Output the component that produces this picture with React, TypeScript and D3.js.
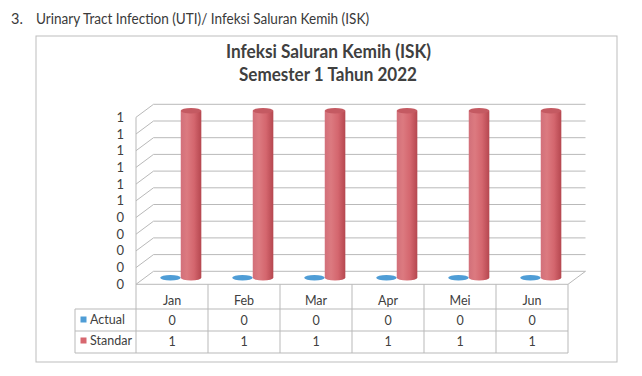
import React from "react";
import * as d3 from "d3";

const months = ["Jan", "Feb", "Mar", "Apr", "Mei", "Jun"];
const seriesNames = ["Actual", "Standar"];
const actualValues = [0, 0, 0, 0, 0, 0];
const standarValues = [1, 1, 1, 1, 1, 1];
const yTicks = [0, 0.1, 0.2, 0.3, 0.4, 0.5, 0.6, 0.7, 0.8, 0.9, 1];
const headingText = "3.";
const headingTitle = "Urinary Tract Infection (UTI)/ Infeksi Saluran Kemih (ISK)";
const titleLines = ["Infeksi Saluran Kemih (ISK)", "Semester 1 Tahun 2022"];

const W = 642;
const H = 376;
const FONT = "Lato, 'Open Sans', sans-serif";
const GRID = "#b9b9b9";
const TEXT = "#404040";
const seriesColors = ["#4f9dd6", "#d7676f"];

export default function App() {
  const x0 = 136;
  const x1 = 568;
  const dx = 17.5;
  const dy = -13;
  const y = d3.scaleLinear().domain([0, 1]).range([284.3, 117.3]);
  const xBand = d3.scaleBand<string>().domain(months).range([x0, x1]);
  const bw = xBand.bandwidth();
  const groupW = bw / 1.75;
  const fmt = d3.format(".0f");
  const values = [actualValues, standarValues];
  const rows = [309, 331, 353];
  const legendX = 75;

  const yb = (v: number) => y(v) + dy;

  return (
    <svg
      width={W}
      height={H}
      style={{ position: "absolute", left: 0, top: 0, background: "#fff" }}
      xmlns="http://www.w3.org/2000/svg"
    >
      <defs>
        <linearGradient id="redCyl" x1="0" x2="1" y1="0" y2="0">
          <stop offset="0" stopColor="#d2707a" />
          <stop offset="0.3" stopColor="#dc7a80" />
          <stop offset="0.65" stopColor="#d4666e" />
          <stop offset="1" stopColor="#b5474f" />
        </linearGradient>
      </defs>

      {/* heading */}
      <text x={11} y={24} fontFamily={FONT} fontSize={14.5} fill="#3a3a3a">
        {headingText}
      </text>
      <text
        x={36}
        y={24}
        fontFamily={FONT}
        fontSize={14.5}
        fill="#3a3a3a"
        textLength={333}
        lengthAdjust="spacingAndGlyphs"
      >
        {headingTitle}
      </text>

      {/* frame */}
      <rect x={36} y={36} width={581} height={326} fill="none" stroke="#bdbdbd" strokeWidth={1} />

      {/* title */}
      <text
        x={328.5}
        y={58}
        textAnchor="middle"
        fontFamily={FONT}
        fontWeight="bold"
        fontSize={19}
        fill={TEXT}
        textLength={205}
        lengthAdjust="spacingAndGlyphs"
      >
        {titleLines[0]}
      </text>
      <text
        x={328}
        y={80.5}
        textAnchor="middle"
        fontFamily={FONT}
        fontWeight="bold"
        fontSize={19}
        fill={TEXT}
        textLength={178}
        lengthAdjust="spacingAndGlyphs"
      >
        {titleLines[1]}
      </text>

      {/* back wall grid lines and left wall diagonals */}
      {yTicks.map((t, i) => (
        <g key={"g" + i}>
          <line x1={x0 + dx} x2={x1 + dx} y1={yb(t)} y2={yb(t)} stroke={GRID} strokeWidth={1} />
          <line x1={x0} x2={x0 + dx} y1={y(t)} y2={yb(t)} stroke={GRID} strokeWidth={1} />
          <text
            x={124}
            y={y(t)}
            dy="0.35em"
            textAnchor="end"
            fontFamily={FONT}
            fontSize={13}
            fill={TEXT}
          >
            {fmt(t)}
          </text>
        </g>
      ))}
      {/* left wall front edge */}
      <line x1={x0} x2={x0} y1={y(1)} y2={rows[2]} stroke={GRID} strokeWidth={1} />
      {/* floor */}
      <line x1={x1} x2={x1 + dx} y1={y(0)} y2={yb(0)} stroke={GRID} strokeWidth={1} />
      <line x1={x0} x2={x1} y1={y(0)} y2={y(0)} stroke={GRID} strokeWidth={1} />

      {/* bars */}
      {months.map((m, i) => {
        const cx = (xBand(m) as number) + bw / 2 + dx / 2;
        const sub = d3
          .scaleBand<string>()
          .domain(seriesNames)
          .range([cx - groupW / 2, cx + groupW / 2]);
        const sw = sub.bandwidth();
        return (
          <g key={m}>
            {seriesNames.map((s, si) => {
              const v = values[si][i];
              const left = sub(s) as number;
              const rx = sw / 2;
              const ry = 2.8;
              const bx = left + rx;
              const yBottom = y(0) + dy / 2;
              const yTop = y(v) + dy / 2;
              if (v === 0) {
                return (
                  <ellipse key={s} cx={bx} cy={yBottom} rx={rx} ry={ry} fill={seriesColors[si]} />
                );
              }
              const body = `M${left},${yTop} L${left},${yBottom} A${rx},${ry} 0 0 0 ${left + sw},${yBottom} L${left + sw},${yTop} Z`;
              return (
                <g key={s}>
                  <path d={body} fill="url(#redCyl)" />
                  <ellipse cx={bx} cy={yTop} rx={rx} ry={ry} fill="#c45a62" />
                </g>
              );
            })}
          </g>
        );
      })}

      {/* data table */}
      {rows.map((ry, i) => (
        <line key={"r" + i} x1={legendX} x2={x1} y1={ry} y2={ry} stroke={GRID} strokeWidth={1} />
      ))}
      <line x1={legendX} x2={legendX} y1={rows[0]} y2={rows[2]} stroke={GRID} strokeWidth={1} />
      {months.map((m) => (
        <line
          key={"v" + m}
          x1={(xBand(m) as number) + bw}
          x2={(xBand(m) as number) + bw}
          y1={y(0)}
          y2={rows[2]}
          stroke={GRID}
          strokeWidth={1}
        />
      ))}
      {months.map((m, i) => {
        const cx = (xBand(m) as number) + bw / 2;
        return (
          <g key={"t" + m}>
            <text x={cx} y={301} dy="0.35em" textAnchor="middle" fontFamily={FONT} fontSize={12.5} fill={TEXT}>
              {m}
            </text>
            <text x={cx} y={320.5} dy="0.35em" textAnchor="middle" fontFamily={FONT} fontSize={12.5} fill={TEXT}>
              {actualValues[i]}
            </text>
            <text x={cx} y={342} dy="0.35em" textAnchor="middle" fontFamily={FONT} fontSize={12.5} fill={TEXT}>
              {standarValues[i]}
            </text>
          </g>
        );
      })}
      {seriesNames.map((s, si) => {
        const cy = si === 0 ? 319.5 : 340.5;
        return (
          <g key={"l" + s}>
            <rect x={80.5} y={cy - 3} width={6} height={6} fill={seriesColors[si]} />
            <text x={90} y={cy} dy="0.35em" fontFamily={FONT} fontSize={12.5} fill={TEXT}>
              {s}
            </text>
          </g>
        );
      })}
    </svg>
  );
}
